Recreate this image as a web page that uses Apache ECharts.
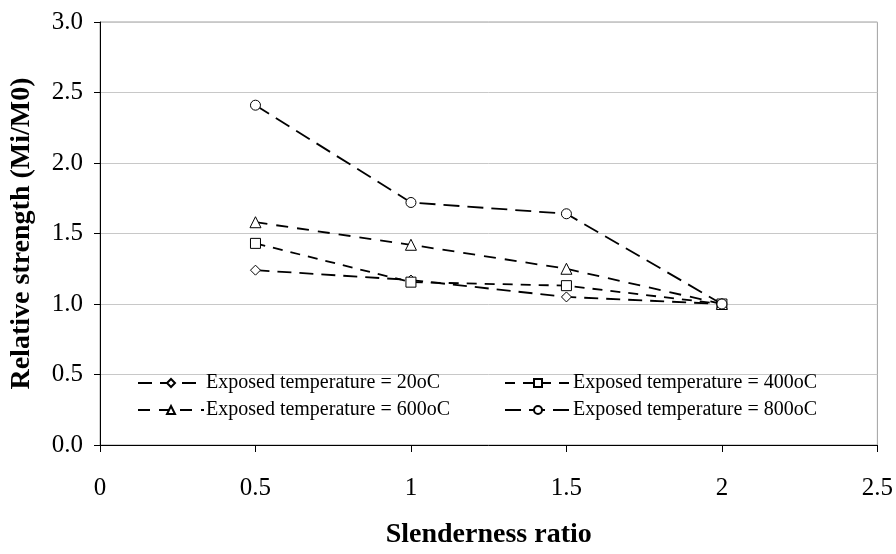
<!DOCTYPE html>
<html>
<head>
<meta charset="utf-8">
<script src="https://cdn.jsdelivr.net/npm/echarts@6/dist/echarts.min.js"></script>
<style>html,body{margin:0;padding:0;background:#fff;}#c{width:896px;height:554px;}</style>
</head>
<body>
<div id="c"></div>
<script>
var xValues = [0.5, 1, 1.5, 2];
var seriesNames = ['Exposed temperature = 20oC', 'Exposed temperature = 400oC', 'Exposed temperature = 600oC', 'Exposed temperature = 800oC'];
var t20 = [1.24, 1.17, 1.05, 1.0];
var t400 = [1.43, 1.155, 1.13, 1.0];
var t600 = [1.58, 1.42, 1.25, 1.0];
var t800 = [2.41, 1.72, 1.64, 1.0];
var xTicks = [0, 0.5, 1, 1.5, 2, 2.5];
var yTicks = [0, 0.5, 1, 1.5, 2, 2.5, 3];

var allValues = [t20, t400, t600, t800];
var symbols = ['diamond', 'rect', 'triangle', 'circle'];
var dashes = [[14, 8], [10, 8], [12, 9], [16, 8]];
var sizes = [10, 10, 11, 10];
var font = '"Liberation Serif", "Times New Roman", serif';

var series = allValues.map(function (vals, i) {
  return {
    name: seriesNames[i],
    type: 'line',
    data: vals.map(function (v, j) { return [xValues[j], v]; }),
    symbol: symbols[i],
    symbolSize: sizes[i],
    showAllSymbol: true,
    lineStyle: { color: '#000', width: 1.8, type: dashes[i] },
    itemStyle: { color: '#fff', borderColor: '#000', borderWidth: 1 },
    emphasis: { disabled: true },
    z: 3 + i
  };
});

var legendPos = [[137, 373], [504, 373], [137, 400], [504, 400]];
var legends = seriesNames.map(function (n, i) {
  return {
    data: [n],
    left: legendPos[i][0],
    top: legendPos[i][1],
    itemWidth: 66,
    itemHeight: 10,
    itemGap: 0,
    padding: 0,
    selectedMode: false,
    textStyle: { fontFamily: font, fontSize: 20, color: '#000', padding: [0, 0, 0, -3] }
  };
});

var chart = echarts.init(document.getElementById('c'), null, { renderer: 'canvas' });
chart.setOption({
  animation: false,
  backgroundColor: '#fff',
  grid: { left: 100, right: 18, top: 22, bottom: 103, show: true, borderColor: '#a0a0a0', borderWidth: 1, backgroundColor: 'transparent' },
  legend: legends,
  xAxis: {
    type: 'value',
    min: 0, max: 2.5, interval: 0.5,
    name: 'Slenderness ratio',
    nameLocation: 'middle',
    nameGap: 76,
    nameTextStyle: { fontFamily: font, fontSize: 28, fontWeight: 'bold', color: '#000' },
    axisLine: { show: true, onZero: false, lineStyle: { color: '#000', width: 1 } },
    axisTick: { show: true, inside: false, length: 7, lineStyle: { color: '#000' } },
    axisLabel: { fontFamily: font, fontSize: 25, color: '#000', margin: 31, formatter: function (v) { return String(v); } },
    splitLine: { show: false }
  },
  yAxis: {
    type: 'value',
    min: 0, max: 3, interval: 0.5,
    name: 'Relative strength (Mi/M0)',
    nameLocation: 'middle',
    nameGap: 64,
    nameTextStyle: { fontFamily: font, fontSize: 28, fontWeight: 'bold', color: '#000' },
    axisLine: { show: true, lineStyle: { color: '#000', width: 1 } },
    axisTick: { show: true, inside: false, length: 6, lineStyle: { color: '#000' } },
    axisLabel: { fontFamily: font, fontSize: 25, color: '#000', margin: 17, formatter: function (v) { return v.toFixed(1); } },
    splitLine: { show: true, lineStyle: { color: '#c8c8c8', width: 1 } }
  },
  series: series
});
</script>
</body>
</html>
